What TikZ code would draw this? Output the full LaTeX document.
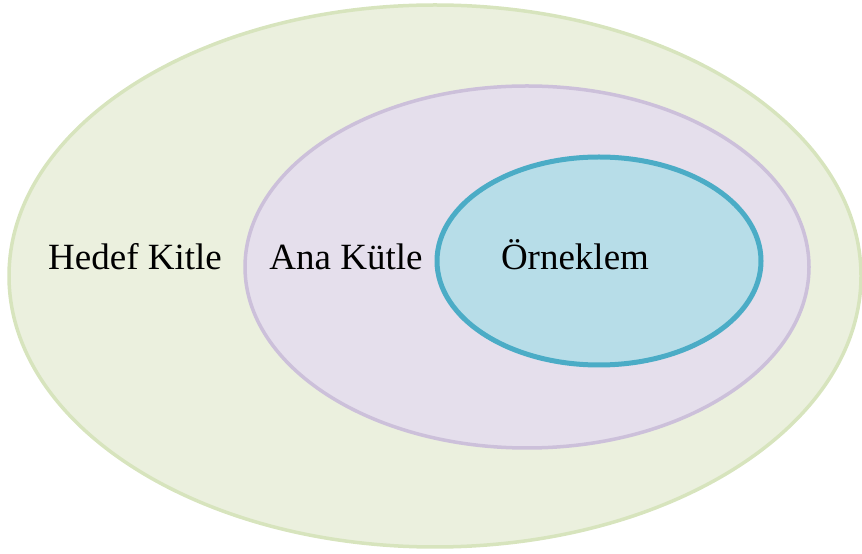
\documentclass[tikz,border=0pt]{standalone}
\usepackage{fontspec}
\setmainfont{Liberation Serif}
\definecolor{outerfill}{HTML}{EBF0DE}
\definecolor{outerline}{HTML}{D7E4BD}
\definecolor{midfill}{HTML}{E5DFEC}
\definecolor{midline}{HTML}{CCC0DA}
\definecolor{innerfill}{HTML}{B7DDE8}
\definecolor{innerline}{HTML}{4BACC6}
\tikzset{lbl/.style={font=\fontsize{37}{42}\selectfont, inner sep=0pt, anchor=base}}
\begin{document}
\begin{tikzpicture}[x=1pt,y=1pt]
\useasboundingbox (0,0) rectangle (862,554);
\begin{scope}
\clip (0,0) rectangle (862,554);
\draw[outerline, fill=outerfill, line width=3.5] (435,278) ellipse [x radius=426, y radius=271];
\draw[midline, fill=midfill, line width=3.5] (527,287) ellipse [x radius=282, y radius=181];
\draw[innerline, fill=innerfill, line width=5] (599,293) ellipse [x radius=162, y radius=104];
\end{scope}
\node[lbl] (hedef) at (135,284) {Hedef Kitle};
\node[lbl] (ana) at (346,284) {Ana Kütle};
\node[lbl] (orn) at (575,284) {Örneklem};
\end{tikzpicture}
\end{document}
